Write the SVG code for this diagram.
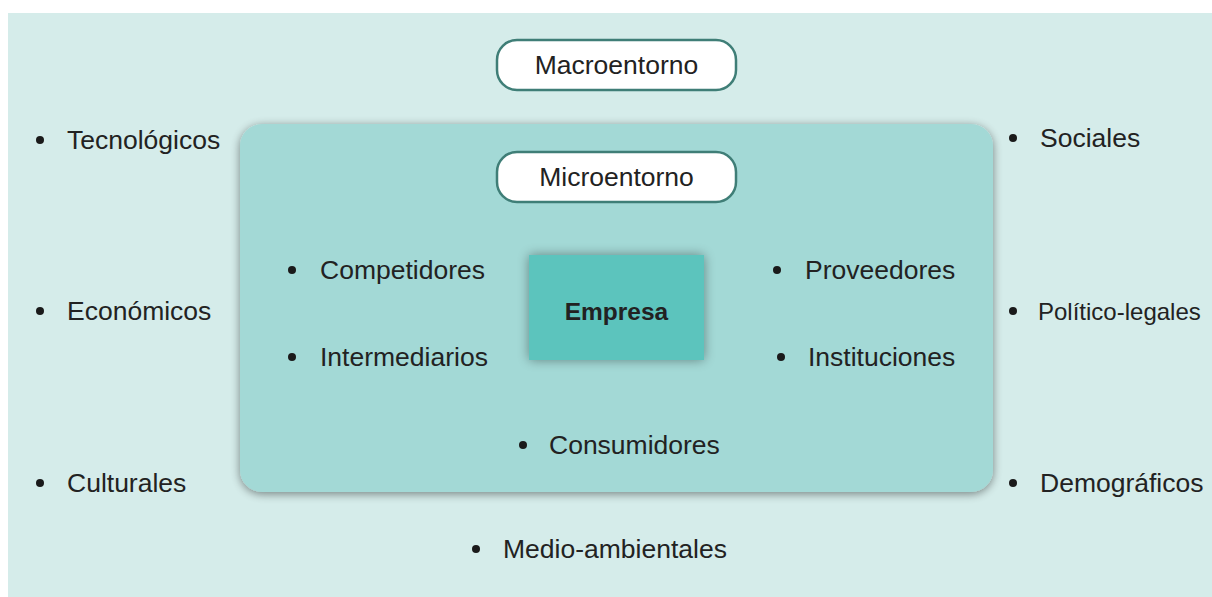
<svg xmlns="http://www.w3.org/2000/svg" width="1212" height="597" viewBox="0 0 1212 597">
<defs>
<style>
.t{font-family:"Liberation Sans","DejaVu Sans",sans-serif;font-size:26.5px;fill:#222;}
.b{fill:#1a1a1a;}
.pill{fill:#fff;stroke:#3f7e77;stroke-width:2.5;}
</style>
<filter id="sh" x="-10%" y="-10%" width="120%" height="120%">
<feGaussianBlur in="SourceAlpha" stdDeviation="5"/>
<feOffset dx="0" dy="2"/>
<feComponentTransfer><feFuncA type="linear" slope="0.45"/></feComponentTransfer>
<feMerge><feMergeNode/><feMergeNode in="SourceGraphic"/></feMerge>
</filter>
<filter id="sh2" x="-20%" y="-20%" width="140%" height="140%">
<feGaussianBlur in="SourceAlpha" stdDeviation="6"/>
<feComponentTransfer><feFuncA type="linear" slope="0.4"/></feComponentTransfer>
<feMerge><feMergeNode/><feMergeNode in="SourceGraphic"/></feMerge>
</filter>
</defs>
<rect x="0" y="0" width="1212" height="597" fill="#ffffff"/>
<rect id="panel" x="8" y="13" width="1204" height="584" fill="#d5ecea"/>
<g id="macro-items">
<circle class="b" cx="40" cy="140" r="4"/><text class="t" x="67" y="149">Tecnológicos</text>
<circle class="b" cx="40" cy="311" r="4"/><text class="t" x="67" y="320">Económicos</text>
<circle class="b" cx="40" cy="483" r="4"/><text class="t" x="67" y="492">Culturales</text>
<circle class="b" cx="1013" cy="138" r="4"/><text class="t" x="1040" y="147">Sociales</text>
<circle class="b" cx="1013" cy="311" r="4"/><text class="t" x="1038" y="320" style="font-size:24px">Político-legales</text>
<circle class="b" cx="1013" cy="483" r="4"/><text class="t" x="1040" y="492">Demográficos</text>
<circle class="b" cx="476" cy="549" r="4"/><text class="t" x="503" y="558">Medio-ambientales</text>
</g>
<g id="macroentorno">
<rect class="pill" x="497" y="40" width="239" height="50" rx="20"/>
<text class="t" x="616.5" y="74" text-anchor="middle">Macroentorno</text>
</g>
<g id="microentorno-box">
<rect x="240" y="124" width="753" height="368" rx="22" fill="#a3d9d6" filter="url(#sh)"/>
</g>
<g id="microentorno">
<rect class="pill" x="497" y="152" width="239" height="50" rx="20"/>
<text class="t" x="616.5" y="186" text-anchor="middle">Microentorno</text>
</g>
<g id="micro-items">
<circle class="b" cx="292" cy="270" r="4"/><text class="t" x="320" y="279">Competidores</text>
<circle class="b" cx="292" cy="357" r="4"/><text class="t" x="320" y="366">Intermediarios</text>
<circle class="b" cx="777" cy="270" r="4"/><text class="t" x="805" y="279">Proveedores</text>
<circle class="b" cx="781" cy="357" r="4"/><text class="t" x="808" y="366">Instituciones</text>
<circle class="b" cx="523" cy="445" r="4"/><text class="t" x="549" y="454">Consumidores</text>
</g>
<g id="empresa">
<rect x="529" y="255" width="175" height="105" fill="#5cc4bd" filter="url(#sh2)"/>
<text class="t" x="616.5" y="320" text-anchor="middle" style="font-size:24.5px;font-weight:bold">Empresa</text>
</g>
</svg>
